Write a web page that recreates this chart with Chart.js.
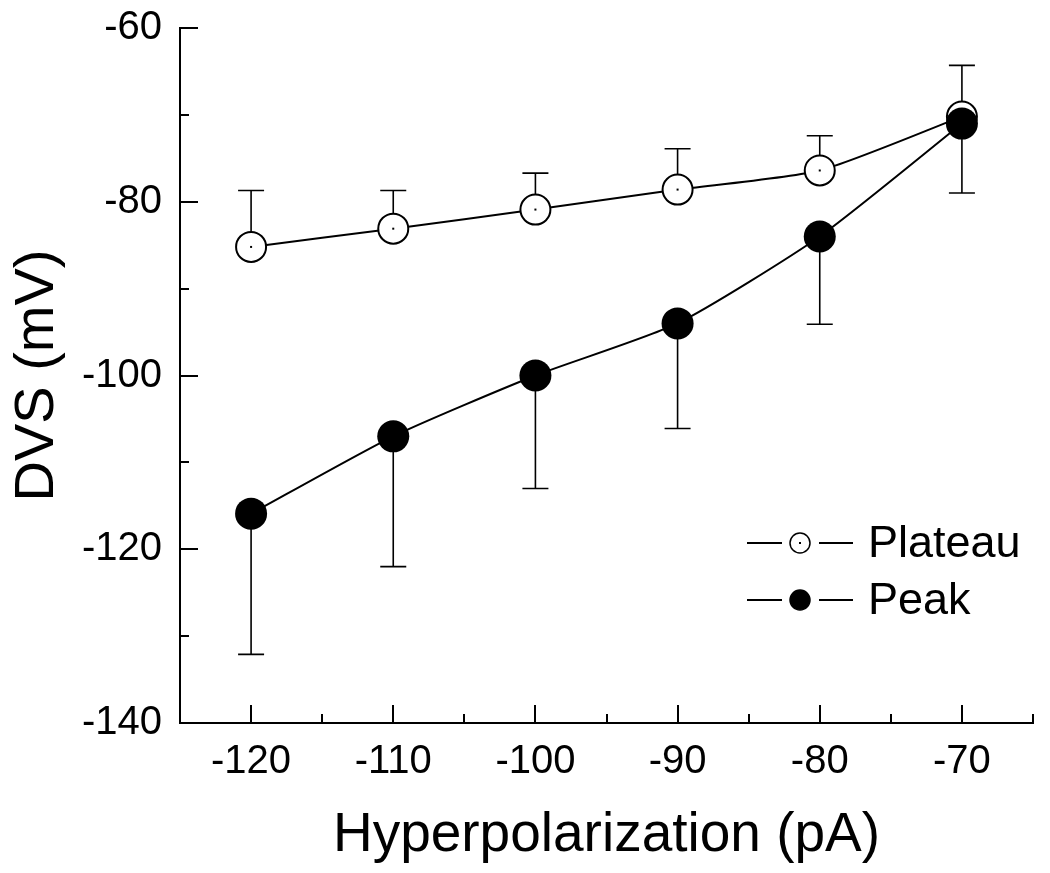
<!DOCTYPE html>
<html>
<head>
<meta charset="utf-8">
<script src="https://cdn.jsdelivr.net/npm/chart.js@4.4.1/dist/chart.umd.min.js"></script>
<style>
  html, body { margin: 0; padding: 0; background: #fff; }
  #wrap { width: 1050px; height: 873px; }
</style>
</head>
<body>
<div id="wrap"><canvas id="dvs"></canvas></div>
<script>
// values
const current = [-120, -110, -100, -90, -80, -70];
const plateau = [-85.2, -83.1, -80.9, -78.6, -76.4, -70.2];
const plateauErr = [6.5, 4.4, 4.2, 4.7, 4.0, 5.9];   // drawn upward
const peak = [-115.9, -107.0, -100.0, -94.0, -84.0, -71.0];
const peakErr = [16.2, 15.0, 13.0, 12.1, 10.1, 8.0]; // drawn downward

const FONT = 'Arial, "Liberation Sans", Helvetica, sans-serif';

function pts(ys) {
    return current.map((x, i) => ({ x: x, y: ys[i] }));
}

// error bars, under the markers
const errorBars = {
    id: 'errorBars',
    beforeDatasetsDraw(chart) {
        const ctx = chart.ctx, xs = chart.scales.x, ys = chart.scales.y;
        ctx.save();
        ctx.strokeStyle = '#000';
        ctx.lineWidth = 1.6;
        const draw = (vals, errs, dir) => {
            vals.forEach((v, i) => {
                const px = xs.getPixelForValue(current[i]);
                const y0 = ys.getPixelForValue(v);
                const y1 = ys.getPixelForValue(v + dir * errs[i]);
                ctx.beginPath();
                ctx.moveTo(px, y0); ctx.lineTo(px, y1);
                ctx.moveTo(px - 13, y1); ctx.lineTo(px + 13, y1);
                ctx.stroke();
            });
        };
        draw(plateau, plateauErr, 1);
        draw(peak, peakErr, -1);
        ctx.restore();
    }
};

// inward major/minor ticks, centre dots, legend
const decorations = {
    id: 'decorations',
    afterDatasetsDraw(chart) {
        const ctx = chart.ctx, xs = chart.scales.x, ys = chart.scales.y;
        const area = chart.chartArea;
        ctx.save();
        ctx.strokeStyle = '#000';
        ctx.lineWidth = 2;
        ctx.beginPath();
        ys.ticks.forEach(t => {
            const py = Math.round(ys.getPixelForValue(t.value));
            const len = t.value % 20 === 0 ? 18 : 9;
            ctx.moveTo(area.left, py); ctx.lineTo(area.left + len, py);
        });
        xs.ticks.forEach(t => {
            const px = Math.round(xs.getPixelForValue(t.value));
            const len = t.value % 10 === 0 ? 18 : 9;
            ctx.moveTo(px, area.bottom); ctx.lineTo(px, area.bottom - len);
        });
        ctx.stroke();

        // little dot in the middle of the open circles
        const meta = chart.getDatasetMeta(0);
        ctx.fillStyle = '#000';
        meta.data.forEach(p => {
            ctx.fillRect(p.x - 1, p.y - 1, 2, 2);
        });

        // legend
        const lx = 747, rows = [
            { label: 'Plateau', y: 543, fill: '#fff' },
            { label: 'Peak', y: 600, fill: '#000' }
        ];
        ctx.font = '45px ' + FONT;
        ctx.textBaseline = 'middle';
        rows.forEach(r => {
            ctx.lineWidth = 2;
            ctx.beginPath();
            ctx.moveTo(lx, r.y); ctx.lineTo(lx + 35, r.y);
            ctx.moveTo(lx + 72, r.y); ctx.lineTo(lx + 106, r.y);
            ctx.stroke();
            ctx.beginPath();
            ctx.arc(lx + 53, r.y, 10, 0, Math.PI * 2);
            ctx.fillStyle = r.fill;
            ctx.fill();
            ctx.lineWidth = 1.5;
            ctx.stroke();
            if (r.fill === '#fff') {
                ctx.fillStyle = '#000';
                ctx.fillRect(lx + 52, r.y - 1, 2, 2);
            }
            ctx.fillStyle = '#000';
            ctx.fillText(r.label, 868, r.y + 2);
        });
        ctx.restore();
    }
};

new Chart(document.getElementById('dvs'), {
    type: 'line',
    data: {
        datasets: [
            {
                label: 'Plateau', data: pts(plateau), order: 2,
                borderColor: '#000', borderWidth: 2, tension: 0.2,
                pointRadius: 15, pointBorderWidth: 2, pointBackgroundColor: '#fff', pointBorderColor: '#000'
            },
            {
                label: 'Peak', data: pts(peak), order: 1,
                borderColor: '#000', borderWidth: 2, tension: 0.2,
                pointRadius: 16, pointBorderWidth: 0, pointBackgroundColor: '#000', pointBorderColor: '#000'
            }
        ]
    },
    options: {
        responsive: true,
        maintainAspectRatio: false,
        animation: false,
        layout: { padding: { top: 28, right: 10, left: 0, bottom: 0 } },
        plugins: { legend: { display: false }, tooltip: { enabled: false } },
        scales: {
            x: {
                type: 'linear', min: -125, max: -65,
                grid: { display: false, drawTicks: false },
                border: { display: true, color: '#000', width: 2 },
                ticks: {
                    stepSize: 5, autoSkip: false, maxRotation: 0, padding: 15,
                    color: '#000', font: { family: FONT, size: 40 },
                    callback: v => (v % 10 === 0 ? v : '')
                },
                title: {
                    display: true, text: 'Hyperpolarization (pA)', color: '#000',
                    font: { family: FONT, size: 55 }, padding: { top: 12 }
                },
                afterFit: s => { s.height = 150; s.paddingLeft = 0; s.paddingRight = 0; }
            },
            y: {
                type: 'linear', min: -140, max: -60,
                grid: { display: false, drawTicks: false },
                border: { display: true, color: '#000', width: 2 },
                ticks: {
                    stepSize: 10, autoSkip: false, padding: 18,
                    color: '#000', font: { family: FONT, size: 40 },
                    callback: v => (v % 20 === 0 ? v : '')
                },
                title: {
                    display: true, text: 'DVS (mV)', color: '#000',
                    font: { family: FONT, size: 56 }, padding: { bottom: 2 }
                },
                afterFit: s => { s.width = 180; s.paddingTop = 0; s.paddingBottom = 0; }
            }
        }
    },
    plugins: [errorBars, decorations]
});
</script>
</body>
</html>
